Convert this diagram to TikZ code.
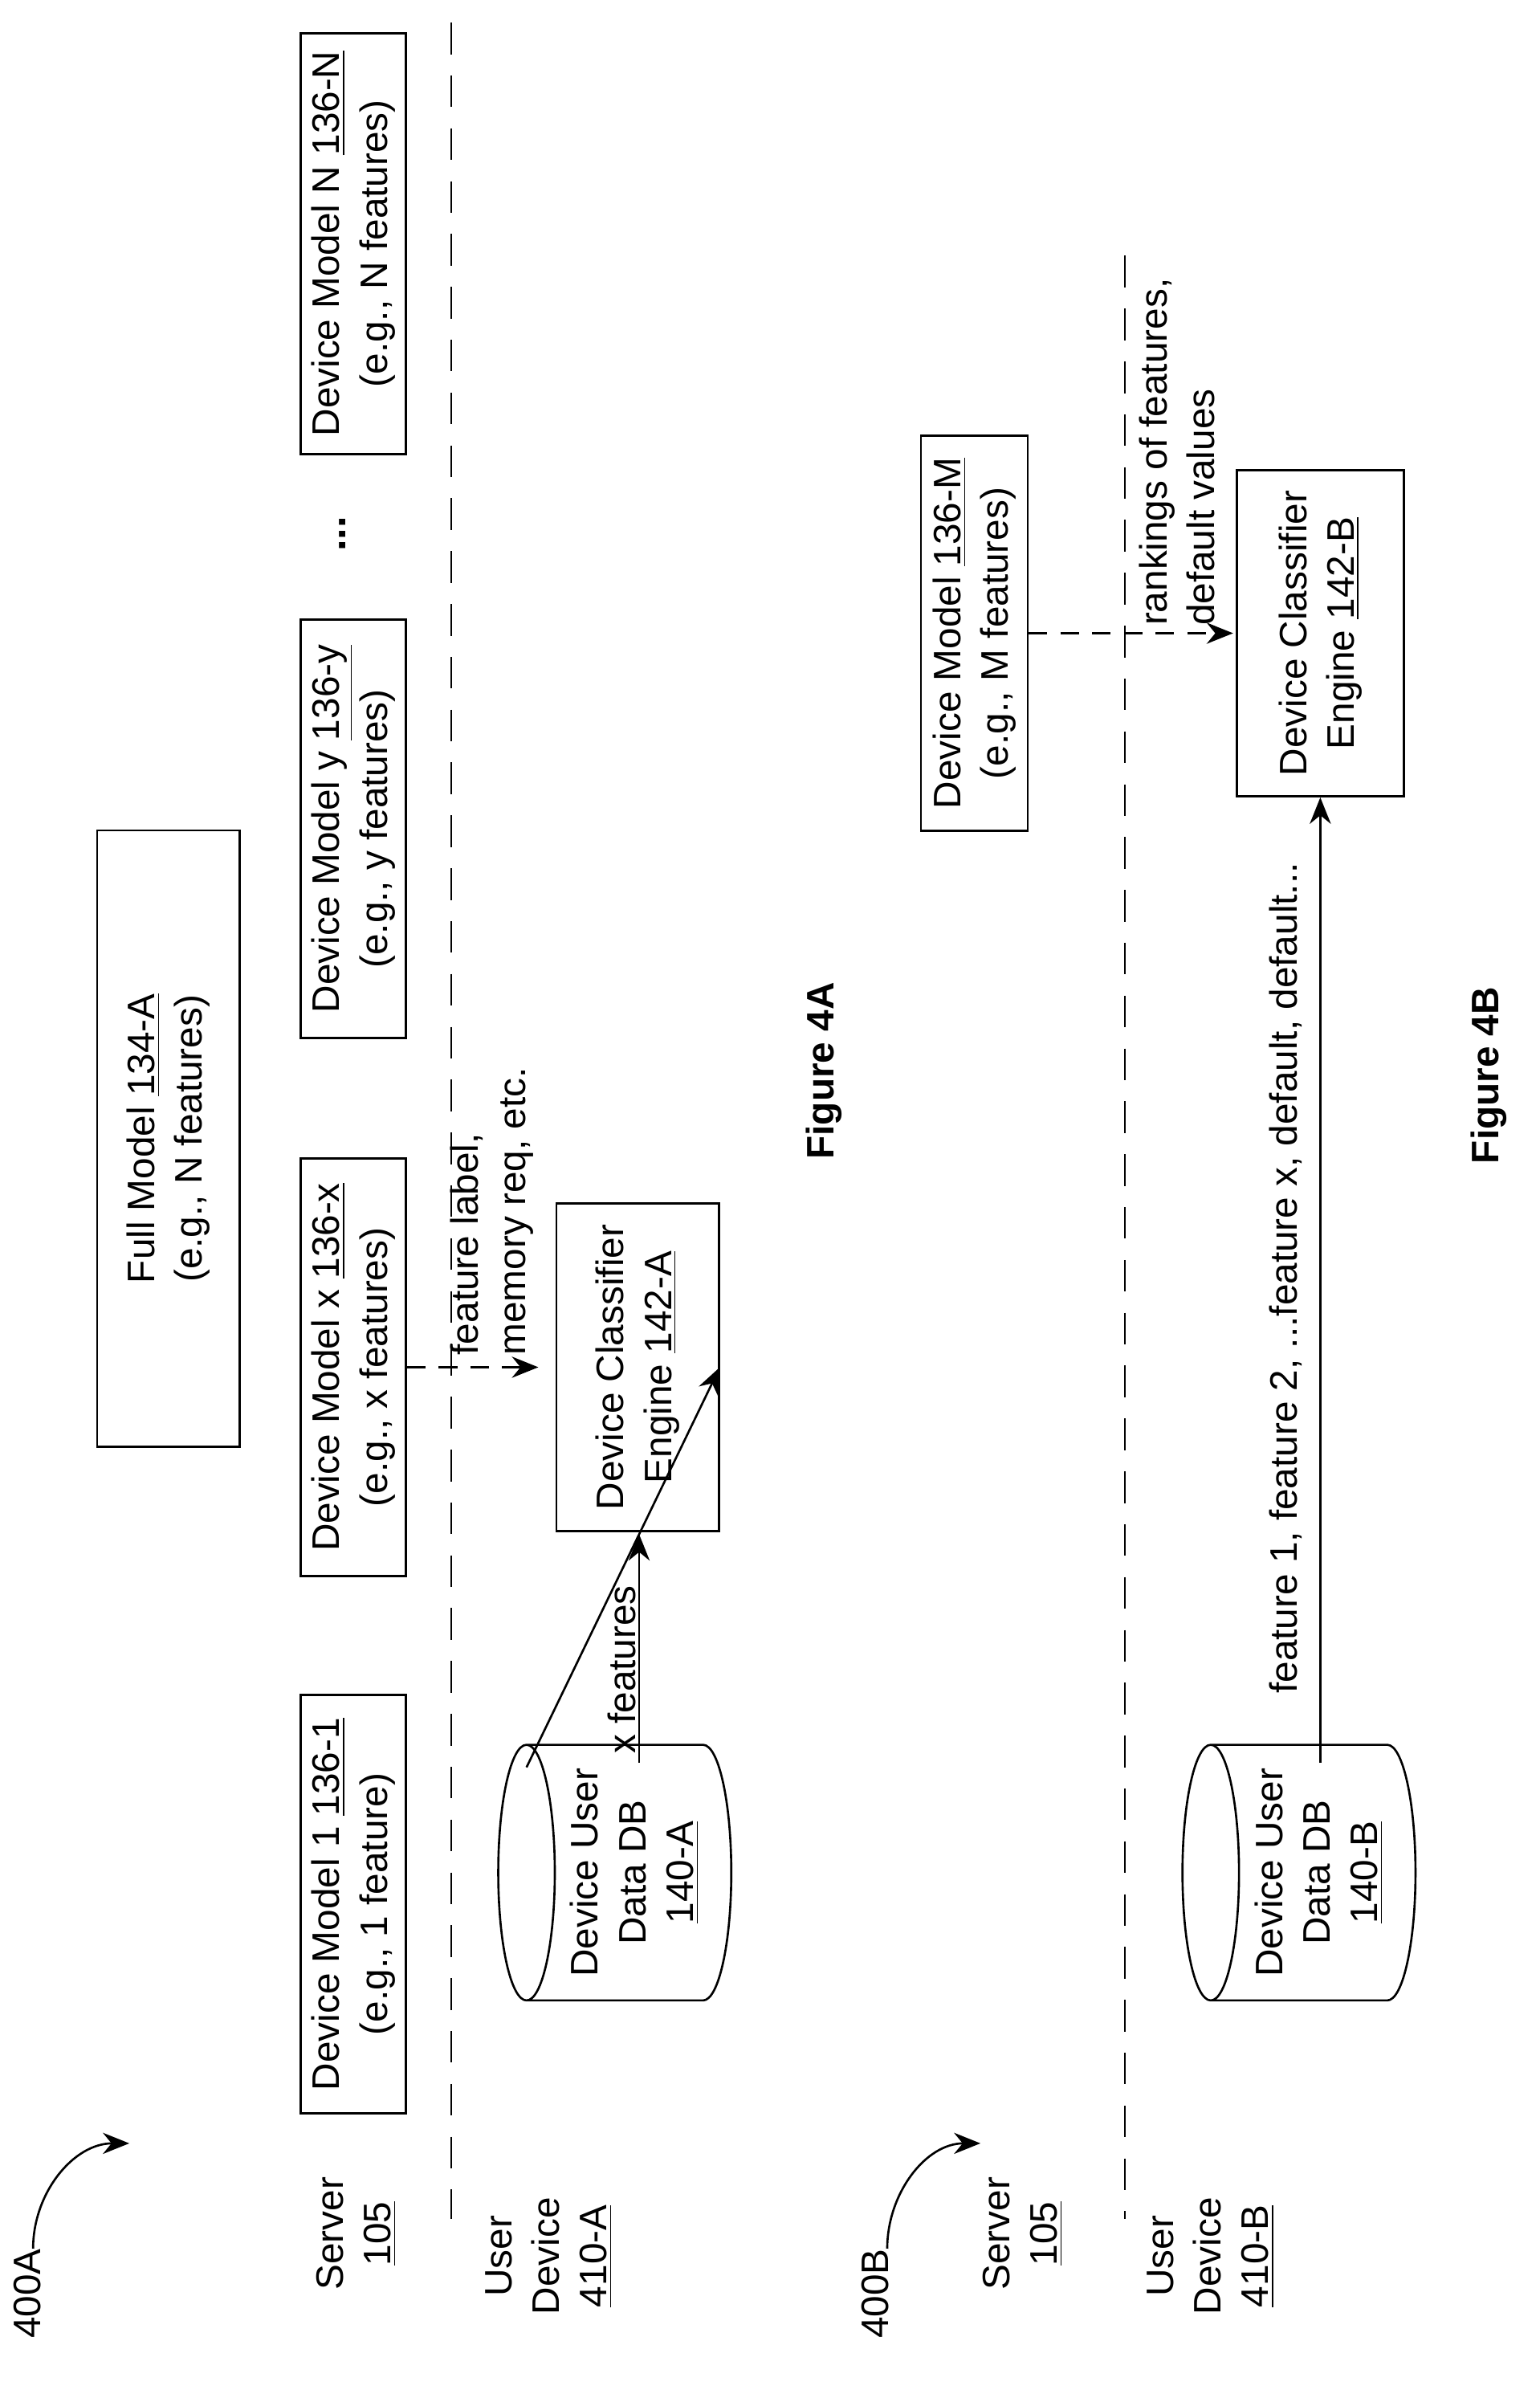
\documentclass[tikz,border=0pt]{standalone}
\usepackage{fontspec}
\setmainfont{Liberation Sans}
\usetikzlibrary{arrows.meta,shapes.geometric,positioning}
\tikzset{
    box/.style={draw, thick, rotate=90, align=center, inner sep=2pt},
    txt/.style={rotate=90, align=center, inner sep=1pt},
    db/.style={draw, thick, cylinder, shape border rotate=90, rotate=90, aspect=0.25,
        align=center, minimum width=3.4cm, minimum height=3.1cm},
    sep/.style={thick, dash pattern=on 12pt off 8pt},
    flow/.style={thick, -{Stealth[length=10pt,width=8pt]}},
    dflow/.style={flow, dash pattern=on 7pt off 5pt}
}
\begin{document}
\begin{tikzpicture}[x=0.02cm, y=-0.02cm, font=\fontsize{14.5}{18}\selectfont]
    \useasboundingbox (0,0) rectangle (1024,1589);

    %% Separators
    \draw[sep] (300,15) -- (300,1475);
    \draw[sep] (748,170) -- (748,1475);

    %% Figure 4A
    \node[txt] (lbl400a) at (18,1525) {400A};
    \coordinate (tip400a) at (86,1425);
    \draw[flow] (22,1495) to[out=90, in=180] (tip400a);
    \node[txt] (srv a) at (237,1485) {Server\\\underline{105}};
    \node[txt] (usr a) at (365,1500) {User\\Device\\\underline{410-A}};

    \node[box, minimum width=8.2cm, minimum height=1.9cm] (full) at (112,757) {Full Model \underline{134-A}\\(e.g., N features)};
    \node[box, minimum width=5.56cm, minimum height=1.4cm] (dm1) at (235,1266) {Device Model 1 \underline{136-1}\\(e.g., 1 feature)};
    \node[box, minimum width=5.56cm, minimum height=1.4cm] (dmx) at (235,909) {Device Model x \underline{136-x}\\(e.g., x features)};
    \node[box, minimum width=5.56cm, minimum height=1.4cm] (dmy) at (235,551) {Device Model y \underline{136-y}\\(e.g., y features)};
    \node[txt, font=\bfseries\fontsize{16}{18}\selectfont] (dots) at (228,355) {...};
    \node[box, minimum width=5.6cm, minimum height=1.4cm] (dmn) at (235,162) {Device Model N \underline{136-N}\\(e.g., N features)};

    \node[box, minimum width=4.36cm, minimum height=2.16cm] (eng a) at (424,909) {Device Classifier\\Engine \underline{142-A}};
    \node[db] (db a) at (422,1245) {Device User\\Data DB\\\underline{140-A}};

    \draw[flow] (db a.before top |- 0,1175) -- (eng a.south);
    \draw[flow] (425,1172) -- (425,1020);
    \node[txt, anchor=north] (xf) at (402,1110) {x features};
    \coordinate (into a) at (358,909);
    \draw[dflow] (dmx.south) -- (into a);
    \node[txt, align=left, anchor=south west] (fl) at (357,903) {feature label,\\memory req, etc.};

    \node[txt, font=\bfseries\fontsize{14.5}{18}\selectfont] (fig a) at (548,712) {Figure 4A};

    %% Figure 4B
    \node[txt] (lbl400b) at (582,1525) {400B};
    \coordinate (tip400b) at (652,1425);
    \draw[flow] (590,1495) to[out=90, in=180] (tip400b);
    \node[txt] (srv b) at (680,1485) {Server\\\underline{105}};
    \node[txt] (usr b) at (805,1500) {User\\Device\\\underline{410-B}};

    \node[box, minimum width=5.26cm, minimum height=1.42cm] (dmm) at (648,421) {Device Model \underline{136-M}\\(e.g., M features)};
    \node[box, minimum width=4.34cm, minimum height=2.22cm] (eng b) at (878,421) {Device Classifier\\Engine \underline{142-B}};
    \node[db] (db b) at (877,1245) {Device User\\Data DB\\\underline{140-B}};

    \coordinate (into b) at (820,421);
    \draw[dflow] (dmm.south) -- (into b);
    \node[txt, align=left, anchor=south west] (rk) at (810,418) {rankings of features,\\default values};
    \draw[flow] (878,1172) -- (eng b.west);
    \node[txt, anchor=south west] (ff) at (868,1128) {feature 1, feature 2, ...feature x, default, default...};

    \node[txt, font=\bfseries\fontsize{14.5}{18}\selectfont] (fig b) at (990,715) {Figure 4B};
\end{tikzpicture}
\end{document}
